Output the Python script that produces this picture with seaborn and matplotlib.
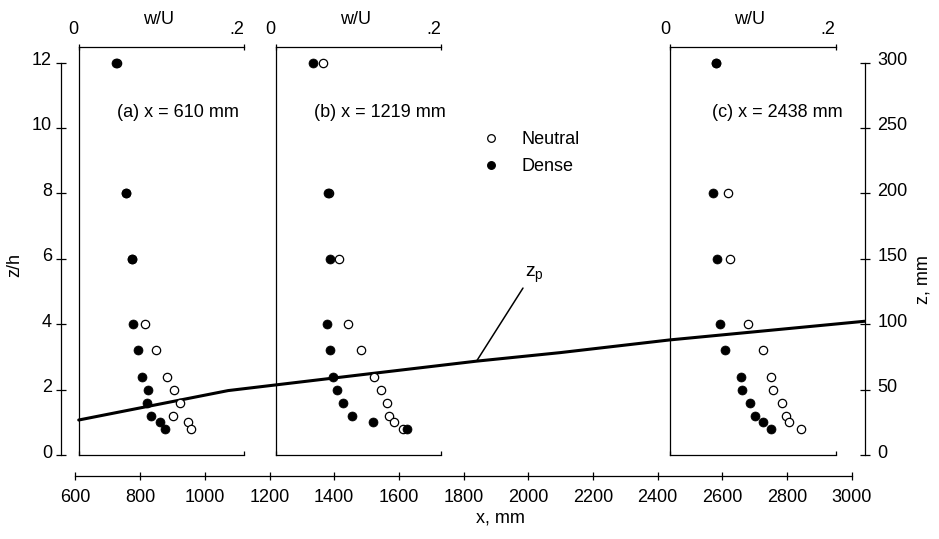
import matplotlib
matplotlib.use("Agg")
import matplotlib.pyplot as plt
import matplotlib.transforms as mtransforms
from matplotlib.lines import Line2D
import numpy as np
import pandas as pd
import seaborn as sns

# ---------------- data ----------------
stations_mm = [610, 1219, 2438]
station_labels = ["(a) x = 610 mm", "(b) x = 1219 mm", "(c) x = 2438 mm"]
z_over_h = [12, 8, 6, 4, 3.2, 2.4, 2.0, 1.6, 1.2, 1.0, 0.8]

neutral_a = [0.0465, 0.0570, 0.0648, 0.0796, 0.0933, 0.1067, 0.1152, 0.1229, 0.1144, 0.1321, 0.1350]
dense_a = [0.0453, 0.0566, 0.0648, 0.0657, 0.0720, 0.0760, 0.0841, 0.0829, 0.0869, 0.0987, 0.1042]
neutral_b = [0.0566, 0.0645, 0.0759, 0.0871, 0.1036, 0.1189, 0.1277, 0.1345, 0.1370, 0.1425, 0.1542]
dense_b = [0.0446, 0.0635, 0.0655, 0.0622, 0.0655, 0.0687, 0.0735, 0.0807, 0.0916, 0.1173, 0.1586]
neutral_c = [0.0560, 0.0705, 0.0724, 0.0946, 0.1123, 0.1215, 0.1240, 0.1357, 0.1397, 0.1436, 0.1581]
dense_c = [0.0555, 0.0515, 0.0572, 0.0604, 0.0660, 0.0853, 0.0865, 0.0966, 0.1026, 0.1127, 0.1224]

neutral_all = [neutral_a, neutral_b, neutral_c]
dense_all = [dense_a, dense_b, dense_c]

# plume height z_p (mm downstream, z/h)
zp_x_mm = [610, 1072, 1480, 1840, 2098, 2438, 3040]
zp_z_h = [1.07, 1.97, 2.45, 2.87, 3.13, 3.52, 4.09]

x_ticks = list(range(600, 3001, 200))
zh_ticks = [0, 2, 4, 6, 8, 10, 12]
zmm_ticks = [0, 50, 100, 150, 200, 250, 300]
wu_ticks = [0, 0.2]
wu_tick_labels = ["0", ".2"]
h_mm = 25

# ---------------- style ----------------
sns.set_theme(style="ticks", rc={
    "axes.edgecolor": "black", "xtick.color": "black", "ytick.color": "black",
    "text.color": "black", "axes.labelcolor": "black",
    "axes.linewidth": 0.9, "mathtext.default": "regular",
})
plt.rcParams["font.family"] = ["Liberation Sans", "DejaVu Sans"]
FS = 13

W, H = 939, 539
fig = plt.figure(figsize=(W / 100, H / 100), dpi=100)
ax = fig.add_axes([61 / W, (H - 455) / H, 804 / W, (455 - 46.25) / H])

ZTOP = 12.5

# z_p line
sns.lineplot(x=zp_x_mm, y=zp_z_h, ax=ax, color="black", linewidth=2.2,
             sort=False, estimator=None)
ax.annotate("$z_p$", xy=(zp_x_mm[3], zp_z_h[3]), xytext=(1990, 5.45),
            fontsize=FS + 1, ha="left", va="baseline",
            arrowprops=dict(arrowstyle="-", color="black", lw=1.1,
                            shrinkA=0, shrinkB=0, relpos=(0, 0)))

ax.set_xlim(555.2, 3041)
ax.set_ylim(0, ZTOP)

# main axes spines / ticks
ax.spines["top"].set_visible(False)
ax.spines["right"].set_visible(False)
ax.spines["bottom"].set_position(("outward", 15))
ax.spines["bottom"].set_bounds(600, 3000)
ax.spines["left"].set_bounds(0, 12)
ax.set_xticks(x_ticks)
ax.set_yticks(zh_ticks)
ax.tick_params(axis="x", direction="inout", length=5.5, width=0.9, pad=7, labelsize=FS)
ax.tick_params(axis="y", direction="inout", length=7, width=0.9, pad=3, labelsize=FS)

ax.set_xlabel("x, mm", fontsize=FS)
ax.xaxis.set_label_coords(0.546, -0.154)
ax.xaxis.label.set_va("center")
ax.set_ylabel("z/h", fontsize=FS)
ax.yaxis.set_label_coords(-0.0572, 0.465)
ax.yaxis.label.set_va("center")

# right axis in mm
axr = ax.twinx()
axr.set_ylim(0, ZTOP * h_mm)
for s in ["left", "top", "bottom"]:
    axr.spines[s].set_visible(False)
axr.spines["right"].set_bounds(0, 300)
axr.set_yticks(zmm_ticks)
axr.tick_params(axis="y", direction="inout", length=7, width=0.9, pad=5.5, labelsize=FS)
axr.set_ylabel("z, mm", fontsize=FS)
axr.yaxis.set_label_coords(1.072, 0.428)
axr.yaxis.label.set_va("center")

up = mtransforms.ScaledTranslation(0, 0.04, fig.dpi_scale_trans)
for lab in ax.get_yticklabels() + axr.get_yticklabels():
    lab.set_transform(lab.get_transform() + up)

# insets: w/U profiles
INSET_W_MM = 512
INSET_TOP = 12.47
text_xfrac = [0.233, 0.231, 0.256]
for i, st in enumerate(stations_mm):
    iax = ax.inset_axes([st, 0, INSET_W_MM, INSET_TOP], transform=ax.transData)
    iax.set_facecolor("none")
    dfn = pd.DataFrame({"wU": neutral_all[i], "zh": z_over_h})
    dfd = pd.DataFrame({"wU": dense_all[i], "zh": z_over_h})
    sns.scatterplot(data=dfn, x="wU", y="zh", ax=iax, s=36, color="white",
                    edgecolor="black", linewidth=0.9, zorder=3)
    sns.scatterplot(data=dfd, x="wU", y="zh", ax=iax, s=42, color="black",
                    edgecolor="black", linewidth=0.5, zorder=4)
    iax.set_xlim(0, 0.2)
    iax.set_ylim(0, INSET_TOP)
    iax.set_xlabel("")
    iax.set_ylabel("")
    iax.set_yticks([])
    iax.spines["right"].set_visible(False)
    iax.spines["top"].set_visible(False)
    iax.set_xticks(wu_ticks)
    iax.tick_params(axis="x", direction="in", length=3, width=0.9, labelbottom=False)
    sec = iax.secondary_xaxis("top")
    sec.set_xticks(wu_ticks, labels=wu_tick_labels, ha="right")
    sec.tick_params(axis="x", direction="inout", length=5, width=0.9, pad=4, labelsize=FS)
    sec.spines["top"].set_linewidth(0.9)
    iax.text(0.48, 1.069, "w/U", transform=iax.transAxes, ha="center", va="center", fontsize=FS)
    iax.text(text_xfrac[i], 0.841, station_labels[i], transform=iax.transAxes,
             ha="left", va="center", fontsize=FS)

# legend
handles = [
    Line2D([], [], marker="o", ls="none", mfc="white", mec="black", ms=5.5, mew=0.9, label="Neutral"),
    Line2D([], [], marker="o", ls="none", mfc="black", mec="black", ms=5.5, mew=0.9, label="Dense"),
]
ax.legend(handles=handles, loc="upper left", bbox_to_anchor=(482 / W, 1 - 131 / H),
          bbox_transform=fig.transFigure, frameon=False, handlelength=1.0,
          handletextpad=1.2, labelspacing=0.58, borderpad=0, borderaxespad=0, fontsize=FS)

fig.savefig("out.png", dpi=100)
